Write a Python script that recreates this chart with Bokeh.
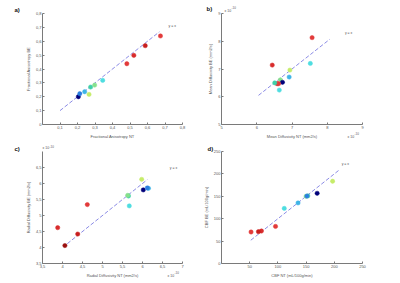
from bokeh.plotting import figure
from bokeh.layouts import gridplot
from bokeh.models import FixedTicker, Label, Range1d
from bokeh.embed import file_html
from bokeh.resources import INLINE

# ---------------- data ----------------
NAVY = "#00007a"; BLUE = "#2a7fe0"; LBLUE = "#3fb4e6"; CYAN = "#4fdde0"
AQUA = "#3fd0a8"; GREEN = "#86e08c"; YGREEN = "#c6ec6a"
RED1 = "#e23a3a"; RED2 = "#d82c2c"; RED3 = "#c81e1e"; DRED = "#9a1010"

# a) Fractional anisotropy
fa_nt = [0.205, 0.213, 0.241, 0.266, 0.275, 0.298, 0.344, 0.482, 0.522, 0.587, 0.674]
fa_be = [0.200, 0.222, 0.236, 0.217, 0.270, 0.284, 0.318, 0.438, 0.498, 0.568, 0.638]
fa_col = [NAVY, BLUE, LBLUE, YGREEN, AQUA, GREEN, CYAN, RED1, RED2, RED3, RED1]
fa_line = [0.10, 0.668]

# b) Mean diffusivity (x 1e-10)
md_nt = [7.57, 6.44, 7.52, 6.94, 6.92, 6.67, 6.73, 6.58, 6.62, 6.51, 6.64]
md_be = [8.13, 7.14, 7.20, 6.96, 6.71, 6.61, 6.52, 6.47, 6.47, 6.50, 6.24]
md_col = [RED1, RED2, CYAN, YGREEN, LBLUE, GREEN, NAVY, RED3, RED1, AQUA, CYAN]
md_line = [6.05, 8.07]

# c) Radial diffusivity (x 1e-10)
rd_nt = [5.98, 6.02, 6.15, 5.65, 5.63, 5.67, 6.12, 4.62, 3.88, 4.38, 4.06]
rd_be = [6.13, 5.80, 5.85, 5.61, 5.63, 5.30, 5.86, 5.34, 4.62, 4.42, 4.06]
rd_col = [YGREEN, NAVY, LBLUE, AQUA, GREEN, CYAN, BLUE, RED1, RED2, RED3, DRED]
rd_line = [4.12, 6.12]

# d) CBF
cbf_nt = [197.0, 169.6, 153.0, 150.0, 135.7, 111.3, 151.5, 95.8, 70.8, 65.5, 52.4]
cbf_be = [183.6, 156.7, 150.9, 150.0, 135.2, 123.0, 150.5, 82.8, 72.5, 71.0, 70.3]
cbf_col = [YGREEN, NAVY, AQUA, GREEN, LBLUE, CYAN, BLUE, RED1, RED2, RED3, RED1]
cbf_line = [52.0, 210.0]

a_xticks = [0.1, 0.2, 0.3, 0.4, 0.5, 0.6, 0.7, 0.8]
a_yticks = [0, 0.1, 0.2, 0.3, 0.4, 0.5, 0.6, 0.7, 0.8]
b_ticks = [5, 6, 7, 8, 9]
c_xticks = [3.5, 4, 4.5, 5, 5.5, 6, 6.5, 7]
c_yticks = [3.5, 4, 4.5, 5, 5.5, 6, 6.5]
d_xticks = [50, 100, 150, 200, 250]
d_yticks = [0, 50, 100, 150, 200, 250]


def fmt(v):
    s = ("%g" % v)
    return s.replace(".", ",")


AXC = "#7a7a7a"
TXC = "#555555"
FONT = "Liberation Sans"


def panel(w, h, left, right, top, bottom, xr, yr, xt, yt, xlab, ylab):
    p = figure(width=w, height=h, output_backend="svg", toolbar_location=None,
               x_range=Range1d(*xr), y_range=Range1d(*yr),
               min_border_left=left, min_border_right=right,
               min_border_top=top, min_border_bottom=bottom)
    p.outline_line_color = None
    p.grid.visible = False
    p.background_fill_color = "white"
    p.border_fill_color = "white"
    for ax, ticks in ((p.xaxis[0], xt), (p.yaxis[0], yt)):
        ax.ticker = FixedTicker(ticks=ticks)
        ax.major_label_overrides = {t: fmt(t) for t in ticks}
        ax.axis_line_color = AXC
        ax.axis_line_width = 1
        ax.major_tick_line_color = AXC
        ax.major_tick_in = 2
        ax.major_tick_out = 0
        ax.minor_tick_line_color = None
        ax.major_label_text_font = FONT
        ax.major_label_text_font_size = "4px"
        ax.major_label_text_color = TXC
        ax.major_label_standoff = 1
        ax.axis_label_text_font = FONT
        ax.axis_label_text_font_size = "4px"
        ax.axis_label_text_font_style = "normal"
        ax.axis_label_text_color = TXC
        ax.axis_label_standoff = 2
    p.xaxis.axis_label = xlab
    p.yaxis.axis_label = ylab
    fw = w - left - right
    fh = h - top - bottom
    p._map = (left, h - bottom, fw, fh, xr, yr)
    return p


def txt(p, px, py, text, side, size="4px", color=TXC, bold=False):
    # place text at a panel pixel position, converted to data space of the frame
    left, fb, fw, fh, xr, yr = p._map
    x = xr[0] + (px - left) / fw * (xr[1] - xr[0])
    y = yr[0] + (fb - py) / fh * (yr[1] - yr[0])
    p.add_layout(Label(x=x, y=y, text=text, text_font=FONT, text_font_size=size,
                       text_color=color, text_baseline="middle", text_align="left",
                       text_font_style="bold" if bold else "normal"), side)


def yx(p, x, y):
    p.add_layout(Label(x=x, y=y, text="y = x", text_font=FONT, text_font_size="3.5px",
                       text_color=TXC, text_baseline="middle"))


def draw(p, x, y, col, line):
    p.line(line, line, line_color="#8c8ce6", line_dash="4 2", line_width=1)
    p.scatter(x, y, size=4.3, fill_color=col, line_color=col, line_width=0.5)


# a
pa = panel(200, 144, 42, 18, 13, 20, (0, 0.8), (0, 0.8), a_xticks, a_yticks,
           "Fractional Anisotropy NT", "Fractional Anisotropy BE")
draw(pa, fa_nt, fa_be, fa_col, fa_line)
txt(pa, 14, 9, "a)", "above", size="6px", color="#111111", bold=True)
yx(pa, 0.72, 0.71)

# b
pb = panel(200, 144, 21, 38, 13, 20, (5, 9), (5, 9), b_ticks, b_ticks,
           "Mean Diffusivity NT (mm2/s)", "Mean Diffusivity BE (mm2/s)")
draw(pb, md_nt, md_be, md_col, md_line)
txt(pb, 6, 8, "b)", "above", size="6px", color="#111111", bold=True)
txt(pb, 24, 10, "x 10", "right", size="3.5px")
txt(pb, 31, 6.5, "-10", "right", size="3px")
txt(pb, 147, 136, "x 10", "right", size="3.5px")
txt(pb, 154, 132.5, "-10", "right", size="3px")
yx(pb, 8.5, 8.29)

# c
pc = panel(200, 139, 42, 18, 7, 20, (3.5, 7), (3.5, 7), c_xticks, c_yticks,
           "Radial Diffusivity NT (mm2/s)", "Radial Diffusivity BE (mm2/s)")
draw(pc, rd_nt, rd_be, rd_col, rd_line)
txt(pc, 14, 4.5, "c)", "left", size="6px", color="#111111", bold=True)
txt(pc, 42, 3.2, "x 10", "left", size="3.5px")
txt(pc, 49, 1.6, "-10", "left", size="3px")
txt(pc, 167, 131, "x 10", "right", size="3.5px")
txt(pc, 174, 127.5, "-10", "right", size="3px")
yx(pc, 6.68, 6.5)

# d
pd = panel(200, 139, 21, 38, 7, 20, (0, 250), (0, 250), d_xticks, d_yticks,
           "CBF NT (mL/100g/min)", "CBF BE (mL/100g/min)")
draw(pd, cbf_nt, cbf_be, cbf_col, cbf_line)
txt(pd, 7, 4.5, "d)", "right", size="6px", color="#111111", bold=True)
yx(pd, 213, 221)

grid = gridplot([[pa, pb], [pc, pd]], toolbar_location=None)
open("out.html", "w").write(file_html(grid, INLINE))
